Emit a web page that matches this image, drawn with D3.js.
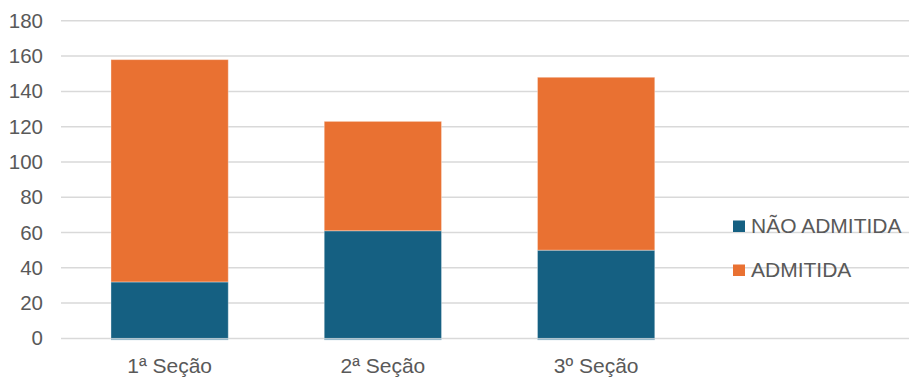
<!DOCTYPE html>
<html>
<head>
<meta charset="utf-8">
<script src="https://cdn.jsdelivr.net/npm/d3@7"></script>
<style>
  body { margin: 0; background: #fff; }
  svg text { font-family: "Liberation Sans", Arial, sans-serif; fill: #595959; }
</style>
</head>
<body>
<div id="chart"></div>
<script>
// chart data
var categories = ["1ª Seção", "2ª Seção", "3º Seção"];
var naoAdmitida = [32, 61, 50];
var admitida = [126, 62, 98];
var seriesNames = ["NÃO ADMITIDA", "ADMITIDA"];
var yTicks = [0, 20, 40, 60, 80, 100, 120, 140, 160, 180];

var width = 910, height = 377;
var colors = ["#156082", "#E97132"];

var svg = d3.select("#chart").append("svg")
	.attr("width", width)
	.attr("height", height);

// plot area, the 4th empty band leaves room for the legend
var x = d3.scaleBand()
	.domain(categories.concat(["_"]))
	.range([63, 916])
	.paddingInner(0.45)
	.paddingOuter(0.225);

var y = d3.scaleLinear().domain([0, 180]).range([338.4, 20.8]);

// gridlines
svg.append("g").selectAll("line")
	.data(yTicks)
	.enter().append("line")
	.attr("x1", 61).attr("x2", 909)
	.attr("y1", function (d) { return y(d); })
	.attr("y2", function (d) { return y(d); })
	.attr("stroke", "#d9d9d9")
	.attr("stroke-width", 1.5);

// y axis labels
var yAxis = d3.axisLeft(y).tickValues(yTicks).tickSize(0).tickPadding(0);
var yg = svg.append("g").attr("transform", "translate(43,0)").call(yAxis);
yg.select(".domain").remove();
yg.selectAll("text").style("font-size", "20.5px").attr("fill", "#595959").attr("font-family", null);

// stacked bars
var rows = categories.map(function (c, i) {
	return { cat: c, nao: naoAdmitida[i], adm: admitida[i] };
});
var stack = d3.stack().keys(["nao", "adm"])(rows);

svg.append("g").selectAll("g")
	.data(stack)
	.enter().append("g")
	.attr("fill", function (d, i) { return colors[i]; })
	.selectAll("rect")
	.data(function (d) { return d; })
	.enter().append("rect")
	.attr("x", function (d) { return x(d.data.cat); })
	.attr("width", x.bandwidth())
	.attr("y", function (d) { return y(d[1]); })
	.attr("height", function (d) { return y(d[0]) - y(d[1]); })
	.attr("stroke", "rgba(255,255,255,0.35)")
	.attr("stroke-width", 1);

// thin light edge along the bar bottoms
svg.append("g").selectAll("line")
	.data(categories)
	.enter().append("line")
	.attr("x1", function (d) { return x(d); })
	.attr("x2", function (d) { return x(d) + x.bandwidth(); })
	.attr("y1", y(0) + 1.2).attr("y2", y(0) + 1.2)
	.attr("stroke", "#8fb3c6")
	.attr("stroke-width", 1);

// x axis labels
var xAxis = d3.axisBottom(x).tickValues(categories).tickSize(0).tickPadding(0);
var xg = svg.append("g").attr("transform", "translate(0,353)").call(xAxis);
xg.select(".domain").remove();
xg.selectAll("text").style("font-size", "21px").attr("fill", "#595959").attr("font-family", null).attr("dy", "0.93em");

// legend
var legend = svg.append("g").selectAll("g")
	.data(seriesNames)
	.enter().append("g")
	.attr("transform", function (d, i) { return "translate(733," + (220.5 + i * 44) + ")"; });

legend.append("rect")
	.attr("width", 12).attr("height", 11.5)
	.attr("fill", function (d, i) { return colors[i]; });

legend.append("text")
	.attr("x", 18).attr("y", 12.5)
	.style("font-size", "21px")
	.text(function (d) { return d; });
</script>
</body>
</html>
